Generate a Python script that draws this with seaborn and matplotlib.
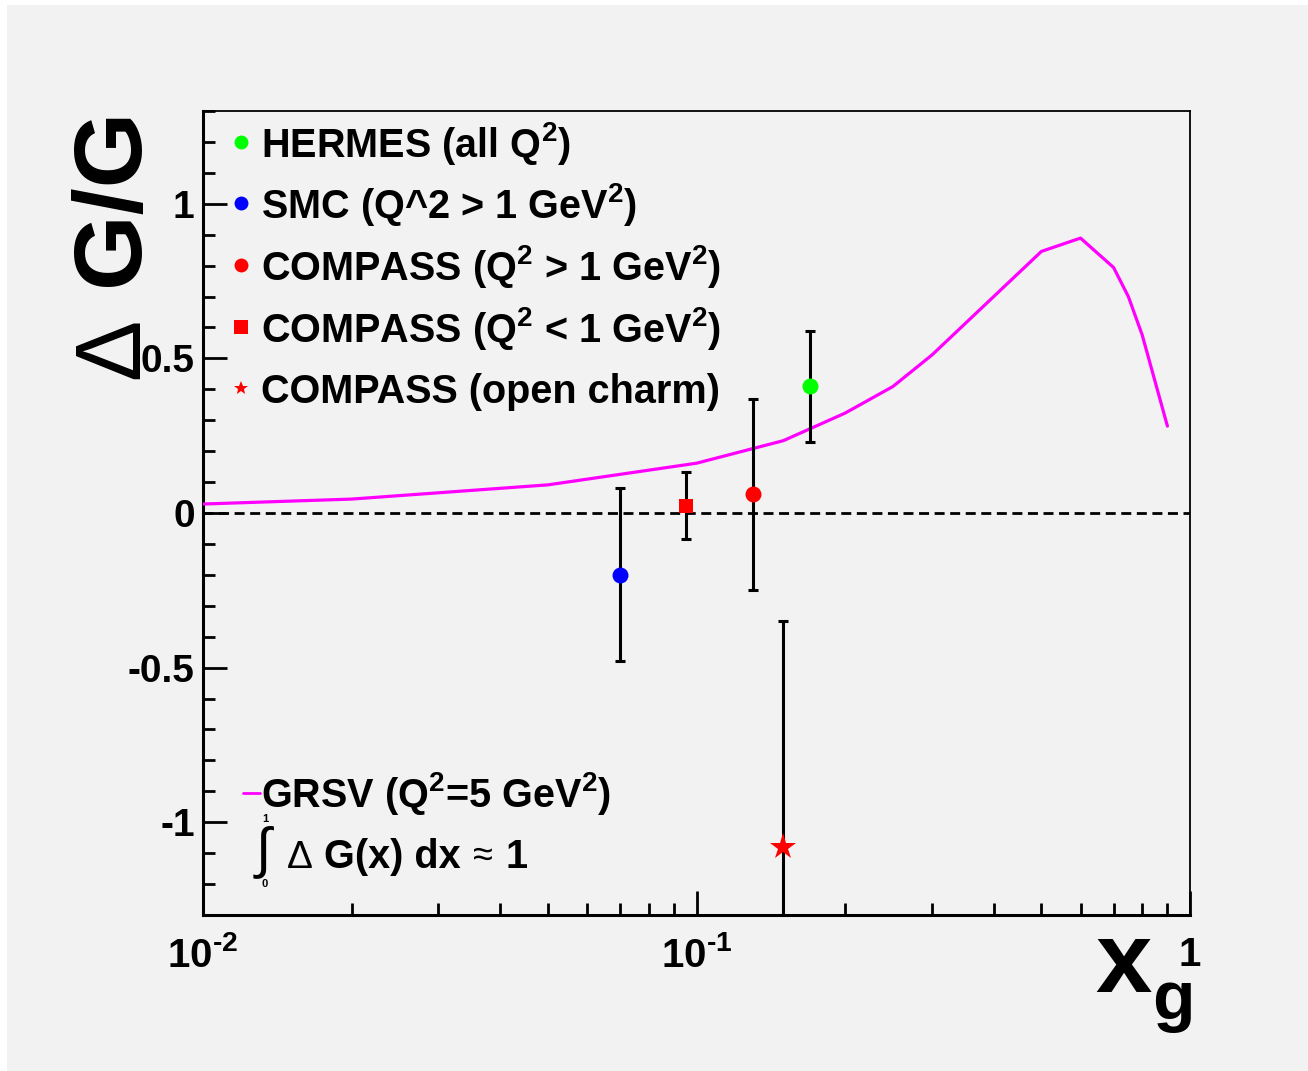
import numpy as np
import seaborn as sns
import matplotlib.pyplot as plt
import matplotlib.ticker as mticker
from matplotlib.patches import Rectangle

# datos
exp_names = ["HERMES (all Q$^2$)", "SMC (Q^2 > 1 GeV$^2$)", "COMPASS (Q$^2$ > 1 GeV$^2$)",
             "COMPASS (Q$^2$ < 1 GeV$^2$)", "COMPASS (open charm)"]
exp_x = [0.17, 0.07, 0.13, 0.095, 0.15]
exp_y = [0.41, -0.20, 0.06, 0.024, -1.08]
exp_err = [0.18, 0.28, 0.31, 0.108, 0.73]
exp_colors = ["#00ff00", "#0000ff", "#ff0000", "#ff0000", "#ff0000"]
exp_markers = ["o", "o", "o", "s", "*"]

grsv_x = [0.01, 0.02, 0.05, 0.1, 0.15, 0.2, 0.25, 0.3, 0.5, 0.6, 0.7, 0.75, 0.8, 0.9]
grsv_y = [0.029, 0.045, 0.091, 0.161, 0.234, 0.323, 0.409, 0.511, 0.846, 0.889, 0.794, 0.700, 0.576, 0.281]

xtick_labels = ["10$^{\u2010 2}$", "10$^{\u2010 1}$", "1"]
ytick_vals = [-1, -0.5, 0, 0.5, 1]
ytick_labels = ["-1", "-0.5", "0", "0.5", "1"]

W, H = 1308, 1071
FAM = ["Liberation Sans", "DejaVu Sans"]

sns.set_style("ticks")
plt.rcParams["font.family"] = FAM
plt.rcParams["font.weight"] = "bold"
plt.rcParams["text.color"] = "black"
plt.rcParams["axes.edgecolor"] = "black"
plt.rcParams["xtick.color"] = "black"
plt.rcParams["ytick.color"] = "black"
plt.rcParams["mathtext.fontset"] = "custom"
plt.rcParams["mathtext.bf"] = "Liberation Sans:bold"
plt.rcParams["mathtext.rm"] = "Liberation Sans:bold"
plt.rcParams["mathtext.default"] = "bf"


def fx(px):
    return px / W


def fy(py):
    return 1 - py / H


gray = "#f2f2f2"
fig = plt.figure(figsize=(W / 100, H / 100), dpi=100, facecolor="white")
fig.patches.append(Rectangle((fx(7), 0), 1 - fx(7), fy(5), transform=fig.transFigure,
                             facecolor=gray, edgecolor="none", zorder=-10))
ax = fig.add_axes([fx(203), fy(915), fx(1190) - fx(203), fy(111) - fy(915)])
ax.set_facecolor(gray)

# curva GRSV
sns.lineplot(x=grsv_x, y=grsv_y, color="#ff00ff", linewidth=2.3, sort=False, ax=ax, zorder=3)

# linea en cero
ax.axhline(0, color="black", lw=2.0, linestyle=(0, (3.6, 2.0)), zorder=2)

# puntos experimentales
for i in range(len(exp_x)):
    ax.errorbar(exp_x[i], exp_y[i], yerr=exp_err[i], fmt="none", ecolor="black",
                elinewidth=2.2, capsize=3.6, capthick=2.2, zorder=4)
    ms = 20 if exp_markers[i] == "*" else (10 if exp_markers[i] == "s" else 11.5)
    ax.plot(exp_x[i], exp_y[i], marker=exp_markers[i], color=exp_colors[i], ms=ms,
            mec=exp_colors[i], mew=0, linestyle="none", zorder=5)

ax.set_xscale("log")
ax.set_xlim(0.01, 1)
ax.set_ylim(-1.3, 1.3)

ax.xaxis.set_major_locator(mticker.FixedLocator([0.01, 0.1, 1]))
ax.xaxis.set_major_formatter(mticker.FixedFormatter(xtick_labels))
ax.xaxis.set_minor_locator(mticker.LogLocator(base=10, subs=np.arange(2, 10), numticks=20))
ax.xaxis.set_minor_formatter(mticker.NullFormatter())
ax.set_yticks(ytick_vals)
ax.set_yticklabels(ytick_labels)
ax.yaxis.set_minor_locator(mticker.MultipleLocator(0.1))

ax.tick_params(axis="both", which="major", direction="in", length=17, width=2.0,
               labelsize=28, top=False, right=False)
ax.tick_params(axis="both", which="minor", direction="in", length=8.5, width=2.0,
               top=False, right=False)
ax.tick_params(axis="y", which="major", pad=6)
ax.tick_params(axis="x", which="major", pad=15, labelsize=29)
for lab in ax.get_xticklabels() + ax.get_yticklabels():
    lab.set_fontweight("bold")

for side in ["left", "bottom"]:
    ax.spines[side].set_linewidth(2.2)
for side in ["top", "right"]:
    ax.spines[side].set_linewidth(1.3)
ax.set_xlabel("")
ax.set_ylabel("")

# titulos de los ejes
fig.text(fx(113), fy(197), "G/G", rotation=90, ha="center", va="center",
         fontsize=70, fontweight="bold")
fig.text(fx(114), fy(348), "\u0394", rotation=90, ha="center", va="center",
         fontsize=66, fontweight="normal", family=FAM)
fig.text(fx(1095), fy(992), "x", ha="left", va="baseline", fontsize=73, fontweight="bold")
fig.text(fx(1152), fy(1019), "g", ha="left", va="baseline", fontsize=50, fontweight="bold")

# leyenda de experimentos
leg_base = [157, 218, 280, 342, 403]
leg_ms = [10, 10, 10, 9.5, 10]
for i in range(len(exp_names)):
    ax.plot([fx(241)], [fy(leg_base[i] - 15)], marker=exp_markers[i], color=exp_colors[i],
            ms=leg_ms[i], mew=0, linestyle="none", transform=fig.transFigure, clip_on=False, zorder=6)
    fig.text(fx(261), fy(leg_base[i]), exp_names[i], ha="left", va="baseline",
             fontsize=28.5, fontweight="bold")

# leyenda GRSV
ax.plot([fx(243), fx(260)], [fy(793), fy(793)], color="#ff00ff", lw=2,
        transform=fig.transFigure, clip_on=False)
fig.text(fx(261), fy(807), "GRSV (Q$^2$=5 GeV$^2$)", ha="left", va="baseline",
         fontsize=28.5, fontweight="bold")
fig.text(fx(256), fy(866), "\u222b", ha="left", va="baseline", fontsize=40,
         fontweight="normal", family=FAM)
fig.text(fx(265), fy(822), "1", ha="center", va="baseline", fontsize=8, fontweight="bold")
fig.text(fx(265), fy(887), "0", ha="center", va="baseline", fontsize=8, fontweight="bold")
fig.text(fx(287), fy(868), "\u0394", ha="left", va="baseline", fontsize=28,
         fontweight="normal", family=FAM)
fig.text(fx(324), fy(868), "G(x) dx", ha="left", va="baseline", fontsize=28.5, fontweight="bold")
fig.text(fx(473), fy(866), "\u2248", ha="left", va="baseline", fontsize=26,
         fontweight="normal", family=FAM)
fig.text(fx(506), fy(868), "1", ha="left", va="baseline", fontsize=28.5, fontweight="bold")

plt.savefig("out.png", dpi=100, facecolor="white")
